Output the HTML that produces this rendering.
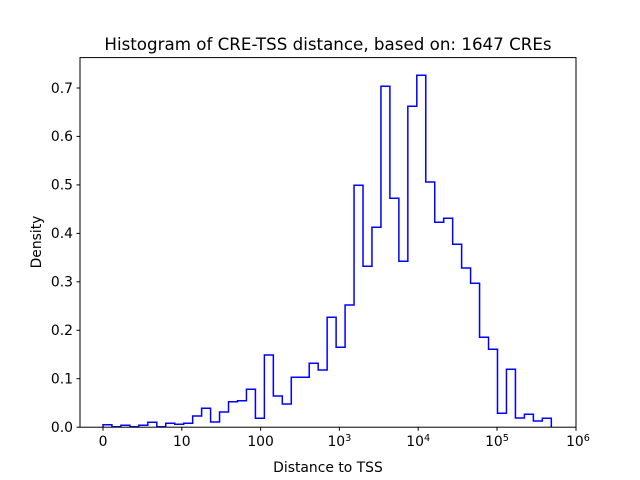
<!DOCTYPE html>
<html><head><meta charset="utf-8"><style>body{margin:0;background:#fff}svg{display:block}text{font-family:"DejaVu Sans",sans-serif;fill:#000}</style></head>
<body>
<svg width="640" height="480" xmlns="http://www.w3.org/2000/svg">
<rect width="640" height="480" fill="#fff"/>
<path fill="none" stroke="#0000ff" stroke-width="1.5" d="M103,427.2 V424.7 H111.97 V426.7 H120.93 V425.3 H129.9 V426.7 H138.86 V425.3 H147.83 V422.3 H156.8 V426.7 H165.76 V423.3 H174.73 V424.3 H183.69 V423.3 H192.66 V416 H201.63 V408.3 H210.59 V422 H219.56 V412 H228.52 V401.7 H237.49 V400.7 H246.46 V389.3 H255.42 V418.3 H264.39 V355 H273.35 V396 H282.32 V404 H291.29 V377.3 H309.22 V363.3 H318.18 V370 H327.15 V317.3 H336.12 V347.3 H345.08 V305 H354.05 V185.3 H363.01 V266.3 H371.98 V227.3 H380.95 V86.3 H389.91 V198.3 H398.88 V261.3 H407.84 V106.3 H416.81 V75.3 H425.78 V182 H434.74 V222.3 H443.71 V218.3 H452.67 V244.3 H461.64 V268 H470.61 V283.3 H479.57 V337.3 H488.54 V349.3 H497.5 V413.3 H506.47 V369.3 H515.44 V418 H524.4 V414.3 H533.37 V421 H542.33 V418.3 H551.3 V427.2"/>
<rect x="80" y="57.6" width="496" height="369.6" fill="none" stroke="#000" stroke-width="1"/>
<g stroke="#000" stroke-width="1">
<line x1="103" y1="427.2" x2="103" y2="430.7"/><line x1="181.8" y1="427.2" x2="181.8" y2="430.7"/><line x1="260.6" y1="427.2" x2="260.6" y2="430.7"/><line x1="339.4" y1="427.2" x2="339.4" y2="430.7"/><line x1="418.2" y1="427.2" x2="418.2" y2="430.7"/><line x1="497" y1="427.2" x2="497" y2="430.7"/><line x1="576" y1="427.2" x2="576" y2="430.7"/>
<line x1="76.5" y1="427.2" x2="80" y2="427.2"/><line x1="76.5" y1="378.7" x2="80" y2="378.7"/><line x1="76.5" y1="330.3" x2="80" y2="330.3"/><line x1="76.5" y1="281.8" x2="80" y2="281.8"/><line x1="76.5" y1="233.4" x2="80" y2="233.4"/><line x1="76.5" y1="184.9" x2="80" y2="184.9"/><line x1="76.5" y1="136.4" x2="80" y2="136.4"/><line x1="76.5" y1="88" x2="80" y2="88"/>
</g>
<g font-size="13.9" text-anchor="end">
<text x="73" y="432">0.0</text><text x="73" y="383.5">0.1</text><text x="73" y="335">0.2</text><text x="73" y="286.6">0.3</text><text x="73" y="238.2">0.4</text><text x="73" y="189.7">0.5</text><text x="73" y="141.2">0.6</text><text x="73" y="92.8">0.7</text>
</g>
<g font-size="13.9" text-anchor="middle">
<text x="103" y="446">0</text><text x="181.8" y="446">10</text><text x="260.6" y="446">100</text>
<text x="339.4" y="446">10<tspan font-size="9.7" dy="-5">3</tspan></text>
<text x="418.2" y="446">10<tspan font-size="9.7" dy="-5">4</tspan></text>
<text x="497" y="446">10<tspan font-size="9.7" dy="-5">5</tspan></text>
<text x="578" y="446">10<tspan font-size="9.7" dy="-5">6</tspan></text>
<text x="328" y="472">Distance to TSS</text>
<text x="328" y="50" font-size="16.7">Histogram of CRE-TSS distance, based on: 1647 CREs</text>
<text transform="translate(41,242) rotate(-90)">Density</text>
</g>
</svg>
</body></html>
